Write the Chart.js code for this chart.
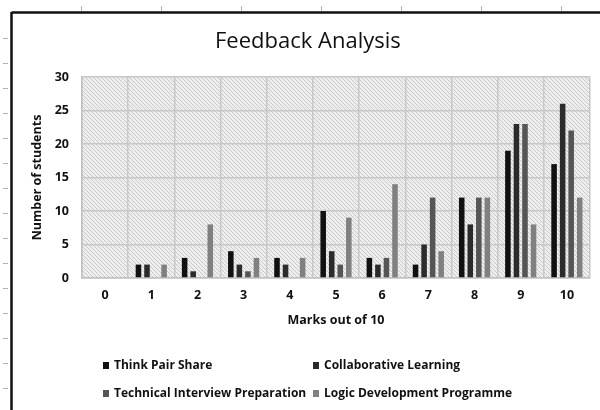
<!DOCTYPE html>
<html>
<head>
<meta charset="utf-8">
<script src="https://cdn.jsdelivr.net/npm/chart.js@4/dist/chart.umd.min.js"></script>
<style>
  html, body { margin: 0; padding: 0; background: #ffffff; }
  #wrap { position: relative; width: 600px; height: 410px; overflow: hidden; }
  #c { position: absolute; left: 0; top: 0; }
  #title { position: absolute; left: 215px; top: 24px; font-family: "Open Sans", Lato, sans-serif; font-size: 22px; color: #111111; white-space: nowrap; }
  .leg { position: absolute; font-family: "Open Sans", Lato, sans-serif; font-weight: bold; font-size: 12px; color: #111111; white-space: nowrap; line-height: 14px; }
  .leg span.box { display: inline-block; width: 6px; height: 7px; margin-right: 5px; vertical-align: 0px; }
</style>
</head>
<body>
<div id="wrap">
  <canvas id="c" width="600" height="410"></canvas>
  <div id="title">Feedback Analysis</div>
  <div id="legend"></div>
</div>
<script>
const categories = ["0","1","2","3","4","5","6","7","8","9","10"];
const seriesNames = ["Think Pair Share","Collaborative Learning","Technical Interview Preparation","Logic Development Programme"];
const thinkPairShare      = [0, 2, 3, 4, 3, 10, 3, 2, 12, 19, 17];
const collaborativeLearn  = [0, 2, 1, 2, 2, 4, 2, 5, 8, 23, 26];
const technicalInterview  = [0, 0, 0, 1, 0, 2, 3, 12, 12, 23, 22];
const logicDevelopment    = [0, 2, 8, 3, 3, 9, 14, 4, 12, 8, 12];
const yTicks = [0, 5, 10, 15, 20, 25, 30];
const seriesColors = ["#111111", "#2b2b2b", "#555555", "#808080"];

const seriesValues = [thinkPairShare, collaborativeLearn, technicalInterview, logicDevelopment];

// hatch pattern
function makePattern(ctx) {
  const p = document.createElement('canvas');
  p.width = 4; p.height = 4;
  const g = p.getContext('2d');
  g.fillStyle = '#eeeeee';
  g.fillRect(0, 0, 4, 4);
  g.strokeStyle = '#c9c9c9';
  g.lineWidth = 1;
  g.beginPath();
  g.moveTo(-1, -1); g.lineTo(5, 5);
  g.moveTo(-1, 3); g.lineTo(1, 5);
  g.moveTo(3, -1); g.lineTo(5, 1);
  g.stroke();
  return ctx.createPattern(p, 'repeat');
}

const decor = {
  id: 'decor',
  beforeDraw(chart) {
    const {ctx, chartArea: a} = chart;
    ctx.save();
    ctx.fillStyle = makePattern(ctx);
    ctx.fillRect(a.left, a.top, a.right - a.left, a.bottom - a.top);
    ctx.restore();
  },
  afterDraw(chart) {
    const ctx = chart.ctx;
    ctx.save();
    // sheet frame
    ctx.strokeStyle = '#111111';
    ctx.lineWidth = 2.5;
    ctx.beginPath();
    ctx.moveTo(11.5, 12.5); ctx.lineTo(600, 12.5);
    ctx.moveTo(11.5, 12); ctx.lineTo(11.5, 410);
    ctx.stroke();
    ctx.strokeStyle = '#b0b0b0';
    ctx.lineWidth = 1;
    ctx.beginPath();
    for (let x = 81; x < 600; x += 80) { ctx.moveTo(x + 0.5, 6); ctx.lineTo(x + 0.5, 11); }
    for (let y = 38; y < 410; y += 25) { ctx.moveTo(3, y + 0.5); ctx.lineTo(8, y + 0.5); }
    ctx.stroke();
    ctx.restore();
  }
};

const boldFont = { family: '"Open Sans", Lato, sans-serif', size: 12.5, weight: 'bold', lineHeight: 1.2 };

new Chart(document.getElementById('c'), {
  type: 'bar',
  data: {
    labels: categories,
    datasets: seriesNames.map((n, i) => ({
      label: n,
      data: seriesValues[i],
      backgroundColor: seriesColors[i],
      borderWidth: 0,
      categoryPercentage: 0.74,
      barPercentage: 0.65
    }))
  },
  options: {
    responsive: false,
    animation: false,
    layout: { padding: { left: 25, right: 10, top: 77, bottom: 82 } },
    plugins: { legend: { display: false }, title: { display: false }, tooltip: { enabled: false } },
    scales: {
      x: {
        grid: { color: '#c8c8c8', lineWidth: 1.5, drawTicks: false, offset: true },
        border: { color: '#c0c0c0', width: 1.5 },
        ticks: { color: '#111111', font: boldFont, padding: 10 },
        title: { display: true, text: 'Marks out of 10', color: '#111111', font: boldFont, padding: { top: 0, bottom: 0 } },
        afterFit(s) { s.height = 50; }
      },
      y: {
        min: 0, max: 30,
        afterBuildTicks(s) { s.ticks = yTicks.map(v => ({ value: v })); },
        grid: { color: '#c8c8c8', lineWidth: 1.5, drawTicks: false },
        border: { color: '#c0c0c0', width: 1.5 },
        ticks: { color: '#111111', font: boldFont, padding: 13 },
        title: { display: true, text: 'Number of students', color: '#111111', font: boldFont, padding: { top: 5, bottom: 0 } },
        afterFit(s) { s.width = 57; }
      }
    }
  },
  plugins: [decor]
});

// legend (HTML text)
const legPos = [[103, 358], [313, 358], [103, 386], [313, 386]];
const legend = document.getElementById('legend');
seriesNames.forEach((n, i) => {
  const d = document.createElement('div');
  d.className = 'leg';
  d.style.left = legPos[i][0] + 'px';
  d.style.top = legPos[i][1] + 'px';
  const b = document.createElement('span');
  b.className = 'box';
  b.style.background = seriesColors[i];
  d.appendChild(b);
  d.appendChild(document.createTextNode(n));
  legend.appendChild(d);
});
</script>
</body>
</html>
